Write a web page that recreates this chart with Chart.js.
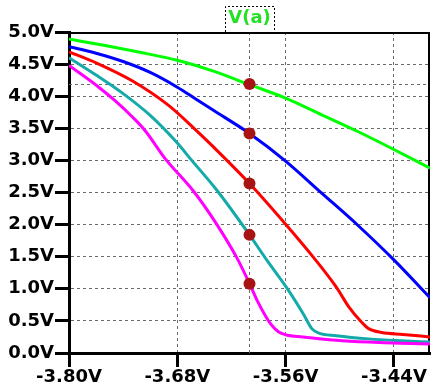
<!DOCTYPE html>
<html>
<head>
<meta charset="utf-8">
<script src="https://cdn.jsdelivr.net/npm/chart.js@4/dist/chart.umd.min.js"></script>
<style>
html,body{margin:0;padding:0;background:#fff;}
canvas{display:block;}
</style>
</head>
<body>
<canvas id="c" width="436" height="389"></canvas>
<script>
// ---- data ----
const titleText = 'V(a)';
const xTickValues = [-3.80, -3.68, -3.56, -3.44];
const yTickValues = [0, 0.5, 1, 1.5, 2, 2.5, 3, 3.5, 4, 4.5, 5];

const greenX = [-3.80, -3.76, -3.72, -3.68, -3.64, -3.60, -3.56, -3.52, -3.48, -3.44, -3.40];
const greenY = [4.89, 4.79, 4.68, 4.56, 4.39, 4.18, 3.97, 3.71, 3.45, 3.17, 2.88];

const blueX = [-3.80, -3.77, -3.74, -3.71, -3.68, -3.66, -3.64, -3.60, -3.56, -3.52, -3.48, -3.44, -3.40];
const blueY = [4.77, 4.67, 4.54, 4.37, 4.14, 3.96, 3.78, 3.42, 2.99, 2.49, 1.99, 1.45, 0.86];

const redX = [-3.80, -3.77, -3.73, -3.69, -3.66, -3.64, -3.60, -3.559, -3.528, -3.504, -3.49, -3.477, -3.468, -3.4535, -3.43, -3.40];
const redY = [4.69, 4.52, 4.24, 3.86, 3.48, 3.21, 2.64, 1.99, 1.47, 1.03, 0.72, 0.50, 0.38, 0.32, 0.29, 0.25];

const cyanX = [-3.80, -3.77, -3.74, -3.71, -3.68, -3.664, -3.637, -3.60, -3.58, -3.557, -3.54, -3.531, -3.523, -3.504, -3.468, -3.432, -3.40];
const cyanY = [4.60, 4.33, 4.04, 3.70, 3.27, 3.00, 2.55, 1.84, 1.43, 0.98, 0.60, 0.38, 0.31, 0.27, 0.22, 0.19, 0.17];

const magentaX = [-3.80, -3.767, -3.749, -3.73, -3.716, -3.693, -3.662, -3.637, -3.6135, -3.60, -3.5916, -3.577, -3.568, -3.559, -3.541, -3.504, -3.468, -3.432, -3.40];
const magentaY = [4.48, 4.14, 3.93, 3.68, 3.47, 3.02, 2.52, 2.02, 1.47, 1.08, 0.82, 0.46, 0.33, 0.28, 0.25, 0.20, 0.17, 0.15, 0.14];

const markerX = [-3.60, -3.60, -3.60, -3.60, -3.60];
const markerY = [4.19, 3.42, 2.64, 1.84, 1.08];

const cursorX = -3.60;
const cursorY = 4.19;

// ---- build ----
const pts = (xs, ys) => xs.map((x, i) => ({x: x, y: ys[i]}));
const FONT = 'DejaVu Sans';
const gridColor = '#6a6a6a';

Chart.defaults.font.family = FONT;
Chart.defaults.color = '#000';

const lineDs = (data, color) => ({
  data: data,
  borderColor: color,
  backgroundColor: color,
  borderWidth: 3,
  pointRadius: 0,
  fill: false,
  cubicInterpolationMode: 'monotone'
});

const framePlugin = {
  id: 'frame',
  beforeDatasetsDraw(chart) {
    const {ctx, chartArea: a, scales: {x, y}} = chart;
    ctx.save();
    ctx.strokeStyle = gridColor;
    ctx.lineWidth = 1;
    ctx.setLineDash([3, 3]);
    const cx = Math.round(x.getPixelForValue(cursorX)) + 0.5;
    const cy = Math.round(y.getPixelForValue(cursorY)) + 0.5;
    ctx.beginPath();
    ctx.moveTo(cx, a.top); ctx.lineTo(cx, a.bottom);
    ctx.moveTo(a.left, cy); ctx.lineTo(a.right, cy);
    ctx.stroke();
    ctx.setLineDash([]);
    ctx.strokeStyle = '#000';
    ctx.lineWidth = 2;
    ctx.beginPath();
    ctx.moveTo(a.left, a.top + 1);
    ctx.lineTo(a.right - 1, a.top + 1);
    ctx.lineTo(a.right - 1, a.bottom);
    ctx.stroke();
    ctx.restore();
  },
  afterDraw(chart) {
    const {ctx, chartArea: a} = chart;
    const tb = chart.titleBlock;
    if (!tb) return;
    ctx.save();
    ctx.font = 'bold 18px "' + FONT + '"';
    const w = ctx.measureText(titleText).width;
    const cxm = (tb.left + tb.right) / 2;
    const l = Math.round(cxm - w / 2 - 3) + 0.5;
    const r = Math.round(cxm + w / 2 + 3) + 0.5;
    const t = Math.round(tb.top + 6) + 0.5;
    const b = a.top;
    ctx.strokeStyle = '#000';
    ctx.lineWidth = 1;
    ctx.setLineDash([2, 2]);
    ctx.beginPath();
    ctx.moveTo(l, b); ctx.lineTo(l, t); ctx.lineTo(r, t); ctx.lineTo(r, b);
    ctx.stroke();
    ctx.restore();
  }
};

new Chart(document.getElementById('c'), {
  type: 'line',
  data: {
    datasets: [
      {
        data: pts(markerX, markerY),
        showLine: false,
        pointRadius: 6,
        pointBackgroundColor: '#a81414',
        pointBorderColor: '#a81414',
        pointBorderWidth: 0,
        borderColor: '#a81414'
      },
      lineDs(pts(magentaX, magentaY), '#ff00ff'),
      lineDs(pts(cyanX, cyanY), '#14aaaa'),
      lineDs(pts(redX, redY), '#ff0000'),
      lineDs(pts(blueX, blueY), '#0000ff'),
      lineDs(pts(greenX, greenY), '#00ff00')
    ]
  },
  options: {
    responsive: false,
    animation: false,
    devicePixelRatio: 1,
    layout: {padding: 0},
    plugins: {
      legend: {display: false},
      tooltip: {enabled: false},
      title: {
        display: true,
        text: titleText,
        color: '#22e022',
        fullSize: false,
        font: {family: FONT, size: 18, weight: 'bold'},
        padding: {top: 8, bottom: 2.4}
      }
    },
    scales: {
      x: {
        type: 'linear',
        min: -3.80,
        max: -3.40,
        afterBuildTicks: s => { s.ticks = xTickValues.map(v => ({value: v})); },
        afterFit: s => { s.height = 36; },
        ticks: {
          padding: 0,
          maxRotation: 0,
          autoSkip: false,
          font: {family: FONT, size: 18, weight: 'bold'},
          color: '#000',
          callback: v => v.toFixed(2) + 'V'
        },
        grid: {
          color: gridColor,
          lineWidth: 1,
          tickLength: 14,
          tickWidth: 3,
          tickColor: '#000',
          tickBorderDash: []
        },
        border: {display: true, color: '#000', width: 3, dash: [3, 3]}
      },
      y: {
        type: 'linear',
        min: 0,
        max: 5,
        afterBuildTicks: s => { s.ticks = yTickValues.map(v => ({value: v})); },
        afterFit: s => { s.width = 69; },
        ticks: {
          padding: 1,
          autoSkip: false,
          font: {family: FONT, size: 18, weight: 'bold'},
          color: '#000',
          callback: v => v.toFixed(1) + 'V'
        },
        grid: {
          color: gridColor,
          lineWidth: 1,
          tickLength: 14,
          tickWidth: 3,
          tickColor: '#000',
          tickBorderDash: []
        },
        border: {display: true, color: '#000', width: 3, dash: [3, 3]}
      }
    }
  },
  plugins: [framePlugin]
});
</script>
</body>
</html>
